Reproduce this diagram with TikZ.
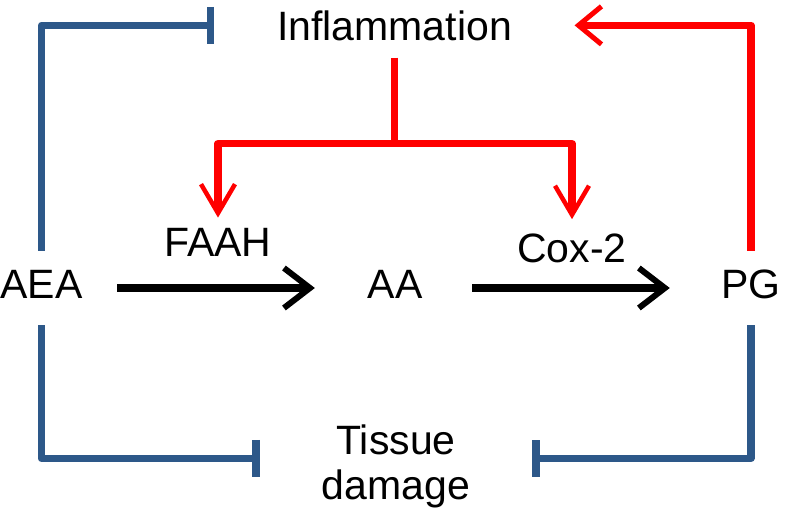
\documentclass[tikz,border=0pt]{standalone}
\usepackage{fontspec}
\setmainfont{Liberation Sans}
\usetikzlibrary{arrows.meta}
\definecolor{inhblue}{RGB}{45,88,137}
\definecolor{actred}{RGB}{255,0,0}
\begin{document}
\begin{tikzpicture}[x=1pt,y=-1pt,
  lbl/.style={font=\fontsize{41}{45}\selectfont, inner sep=0pt},
  mol/.style={lbl, text height=30pt, text depth=10pt, inner ysep=17pt, anchor=base},
  inh/.style={draw=inhblue, line width=7.5pt, line join=round, -{Bar[width=37pt]}},
  act/.style={draw=actred, line width=7.5pt, line join=round},
  conv/.style={draw=black, line width=8pt, -{Straight Barb[length=26pt,width=40pt,line width=6pt]}},
  downtip/.style={-{Straight Barb[length=29pt,width=34pt,line width=4.5pt]}},
  lefttip/.style={-{Straight Barb[length=23pt,width=38pt,line width=5pt]}},
]
\useasboundingbox (0,0) rectangle (787,514);

\node[mol] (aea) at (41.5,298) {AEA};
\node[mol] (aa) at (395,298) {AA};
\node[mol] (pg) at (751,298) {PG};
\node[lbl, anchor=base, inner xsep=62.5pt, inner ysep=17pt] (inf) at (394.5,40) {Inflammation};
\node[lbl, anchor=base, inner ysep=10pt] (faah) at (218,256) {FAAH};
\node[lbl, anchor=base, inner ysep=14pt] (cox) at (572,262) {Cox-2};
\node[lbl, align=center, anchor=north, inner xsep=62pt] (tis) at (396,425) {Tissue\\damage};

\coordinate (branch) at ([yshift=-86pt]inf.south);

\draw[inh] (aea.north) |- (inf.west);
\draw[act, lefttip] (pg.north) |- (inf.east);
\draw[act] (inf.south) -- (branch);
\draw[act, downtip] (branch) -| (faah.north);
\draw[act, downtip] (branch) -| (cox.north);

\draw[conv, shorten <=34.5pt, shorten >=52.6pt] (aea.east) -- (aa.west);
\draw[conv, shorten <=49.7pt, shorten >=51.4pt] (aa.east) -- (pg.west);

\draw[inh] (aea.south) |- ([yshift=8.5pt]tis.west);
\draw[inh] (pg.south) |- ([yshift=8.5pt]tis.east);
\end{tikzpicture}
\end{document}
